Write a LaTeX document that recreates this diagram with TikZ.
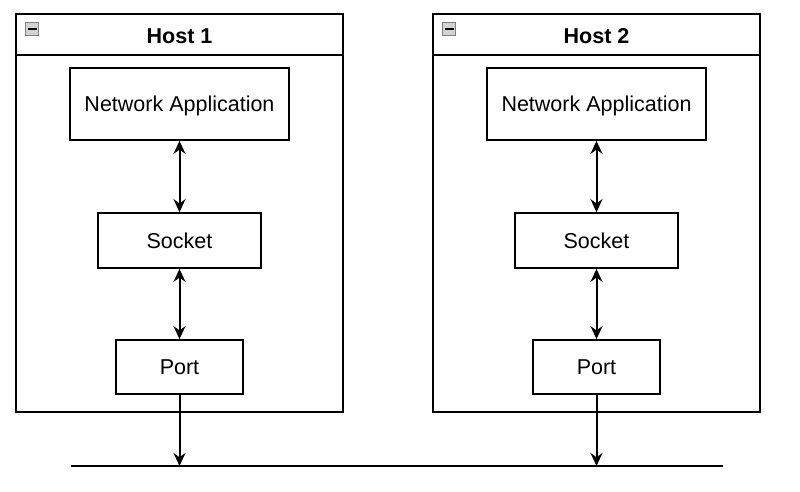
\documentclass[tikz,border=0pt]{standalone}
\usepackage{fontspec}
\setmainfont{Liberation Sans}
\usetikzlibrary{arrows.meta}

\tikzset{
    box/.style={draw, line width=1.7pt, inner sep=0pt, font=\fontsize{21.5}{24}\selectfont},
    hostbox/.style={draw, line width=1.7pt, inner sep=0pt},
    conn/.style={line width=2pt, -{Stealth[length=13pt, width=12pt]}},
    biconn/.style={line width=2pt, {Stealth[length=13pt, width=12pt]}-{Stealth[length=13pt, width=12pt]}}
}

\begin{document}
\begin{tikzpicture}[x=1pt, y=-1pt]
        \useasboundingbox (0,0) rectangle (800,492);
        % host 1
        \node[hostbox, minimum width=327pt, minimum height=398pt] (host1) at (179.5, 213) {};
        \draw[line width=1.7pt] (16, 55) -- (343, 55);
        \node[font=\bfseries\fontsize{21.5}{24}\selectfont] (title1) at (179.5, 36) {Host 1};
        \node[draw=gray, fill=gray!35, minimum size=13pt, inner sep=0pt] (icon1) at (32, 29) {};
        \draw[line width=1.4pt] (27.5, 29) -- (36.5, 29);
        \node[box, text depth=0pt, minimum width=219pt, minimum height=72pt] (app1)  at (179.5, 104) {Network Application};
        \node[box, minimum width=163pt, minimum height=55pt] (sock1) at (179.5, 240.5) {Socket};
        \node[box, minimum width=127pt, minimum height=54pt] (port1) at (179.5, 367) {Port};
        % host 2
        \node[hostbox, minimum width=327pt, minimum height=398pt] (host2) at (596.5, 213) {};
        \draw[line width=1.7pt] (433, 55) -- (760, 55);
        \node[font=\bfseries\fontsize{21.5}{24}\selectfont] (title2) at (596.5, 36) {Host 2};
        \node[draw=gray, fill=gray!35, minimum size=13pt, inner sep=0pt] (icon2) at (449, 29) {};
        \draw[line width=1.4pt] (444.5, 29) -- (453.5, 29);
        \node[box, text depth=0pt, minimum width=219pt, minimum height=72pt] (app2)  at (596.5, 104) {Network Application};
        \node[box, minimum width=163pt, minimum height=55pt] (sock2) at (596.5, 240.5) {Socket};
        \node[box, minimum width=127pt, minimum height=54pt] (port2) at (596.5, 367) {Port};
        % network line
        \coordinate (busL) at (71, 466);
        \coordinate (busR) at (723, 466);
        \draw[line width=1.7pt] (busL) -- (busR);
        % links
        \draw[biconn] (app1) -- (sock1);
        \draw[biconn] (sock1) -- (port1);
        \draw[conn] (port1) -- (port1 |- busL);
        \draw[biconn] (app2) -- (sock2);
        \draw[biconn] (sock2) -- (port2);
        \draw[conn] (port2) -- (port2 |- busL);
    \end{tikzpicture}
\end{document}
